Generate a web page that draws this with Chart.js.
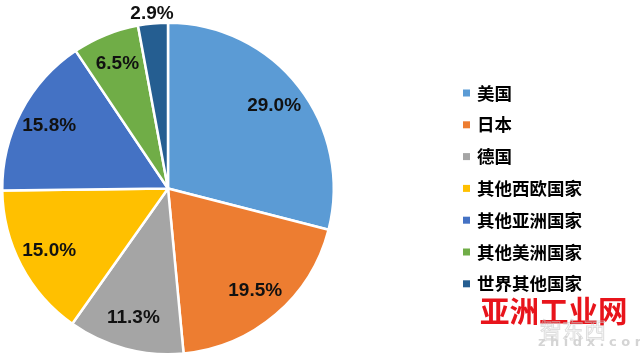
<!DOCTYPE html>
<html>
<head>
<meta charset="utf-8">
<script src="https://cdn.jsdelivr.net/npm/chart.js@4/dist/chart.umd.min.js"></script>
<style>
  html, body { margin: 0; padding: 0; background: #ffffff; }
  #wrap { width: 640px; height: 363px; position: relative; }
</style>
</head>
<body>
<div id="wrap"><canvas id="c" width="640" height="363"></canvas></div>
<script>
const categories = ['美国', '日本', '德国', '其他西欧国家', '其他亚洲国家', '其他美洲国家', '世界其他国家'];
const shares = [29.0, 19.5, 11.3, 15.0, 15.8, 6.5, 2.9];
const sliceColors = ['#5B9BD5', '#ED7D31', '#A5A5A5', '#FFC000', '#4472C4', '#70AD47', '#255E91'];

const labelPlugin = {
  id: 'sliceLabels',
  afterDatasetsDraw(chart) {
    const ctx = chart.ctx;
    const meta = chart.getDatasetMeta(0);
    const vals = chart.data.datasets[0].data;
    ctx.save();
    ctx.font = 'bold 19px "Liberation Sans", Arial, sans-serif';
    ctx.fillStyle = '#111111';
    ctx.textAlign = 'center';
    ctx.textBaseline = 'middle';
    meta.data.forEach((arc, i) => {
      const p = arc.getProps(['x', 'y', 'startAngle', 'endAngle', 'outerRadius'], true);
      const mid = (p.startAngle + p.endAngle) / 2;
      const small = vals[i] < 5;
      const f = small ? 1.06 : 0.81;
      const x = p.x + Math.cos(mid) * p.outerRadius * f;
      const y = p.y + Math.sin(mid) * p.outerRadius * f;
      ctx.fillText(vals[i].toFixed(1) + '%', x, y);
    });
    ctx.restore();
  }
};

const legendPlugin = {
  id: 'sideLegend',
  afterDraw(chart) {
    const ctx = chart.ctx;
    const labels = chart.data.labels;
    const colors = chart.data.datasets[0].backgroundColor;
    const x0 = 463, y0 = 93, step = 31.8;
    ctx.save();
    ctx.font = 'bold 17.5px "Noto Sans CJK SC", sans-serif';
    ctx.textAlign = 'left';
    ctx.textBaseline = 'middle';
    labels.forEach((lab, i) => {
      const y = y0 + i * step;
      ctx.fillStyle = colors[i];
      ctx.fillRect(x0, y - 3.5, 7, 7);
      ctx.fillStyle = '#000000';
      ctx.fillText(lab, x0 + 14, y);
    });
    // watermark
    ctx.font = 'bold 29.5px "Noto Sans CJK SC", sans-serif';
    ctx.fillStyle = '#E8141B';
    ctx.fillText('亚洲工业网', 480, 311);
    ctx.font = '22px "Noto Sans CJK SC", sans-serif';
    ctx.strokeStyle = 'rgba(200,200,200,0.6)';
    ctx.lineWidth = 1;
    ctx.strokeText('智东西', 540, 330);
    ctx.font = 'bold 13px "DejaVu Sans", sans-serif';
    ctx.fillStyle = '#d4d4d4';
    ctx.fillText('z h i d x . c o m', 538, 343);
    ctx.restore();
  }
};

new Chart(document.getElementById('c'), {
  type: 'pie',
  data: {
    labels: categories,
    datasets: [{
      data: shares,
      backgroundColor: sliceColors,
      borderColor: '#ffffff',
      borderWidth: 2.5
    }]
  },
  options: {
    responsive: false,
    animation: false,
    layout: { padding: { left: 1, top: 21, right: 305, bottom: 7 } },
    plugins: {
      legend: { display: false },
      tooltip: { enabled: false }
    }
  },
  plugins: [labelPlugin, legendPlugin]
});
</script>
</body>
</html>
